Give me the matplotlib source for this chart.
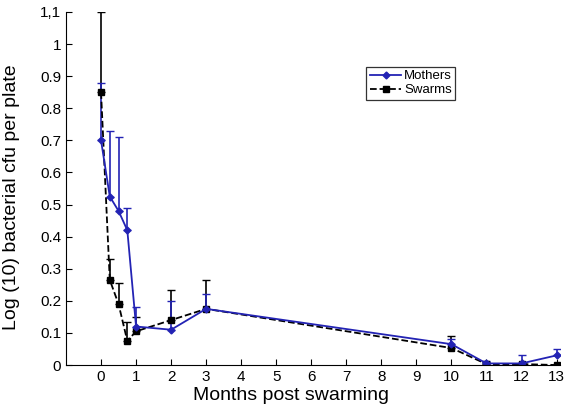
import matplotlib.pyplot as plt
from matplotlib.lines import Line2D
import numpy as np

plt.rcParams['font.family'] = ['Liberation Sans', 'DejaVu Sans']

# Months post swarming
months = [0, 0.25, 0.5, 0.75, 1, 2, 3, 10, 11, 12, 13]

# Mothers: mean and top of error bar
mothers = [0.70, 0.525, 0.48, 0.42, 0.12, 0.11, 0.175, 0.065, 0.005, 0.005, 0.03]
mothers_top = [0.88, 0.73, 0.71, 0.49, 0.18, 0.20, 0.22, 0.08, 0.012, 0.03, 0.05]

# Swarms: mean and top of error bar
swarms = [0.85, 0.265, 0.19, 0.075, 0.105, 0.14, 0.175, 0.053, 0.003, 0.003, 0.0]
swarms_top = [1.10, 0.33, 0.255, 0.135, 0.15, 0.235, 0.265, 0.09, 0.008, 0.005, 0.0]

yticks = [0, 0.1, 0.2, 0.3, 0.4, 0.5, 0.6, 0.7, 0.8, 0.9, 1.0, 1.1]
ytick_labels = ['0', '0.1', '0.2', '0.3', '0.4', '0.5', '0.6', '0.7', '0.8', '0.9', '1', '1,1']
xticks = list(range(0, 14))

blue = '#2323b4'

fig = plt.figure(figsize=(5.64, 4.12), dpi=100)
ax = fig.add_axes([0.117, 0.114, 0.876, 0.857])

m = np.array(mothers)
s = np.array(swarms)
s_err = [np.zeros(len(s)), np.array(swarms_top) - s]
m_err = [np.zeros(len(m)), np.array(mothers_top) - m]

ax.errorbar(months, s, yerr=s_err, color='black', ls='--', lw=1.3,
            marker='s', ms=4, capsize=3, elinewidth=1.2)
ax.errorbar(months, m, yerr=m_err, color=blue, ls='-', lw=1.3,
            marker='D', ms=3.5, capsize=3, elinewidth=1.2)

ax.set_xlim(-1, 13.1)
ax.set_ylim(0, 1.1)
ax.set_xticks(xticks)
ax.set_yticks(yticks)
ax.set_yticklabels(ytick_labels)
ax.tick_params(direction='in', length=4, labelsize=11)
ax.spines['top'].set_visible(False)
ax.spines['right'].set_visible(False)

ax.set_xlabel('Months post swarming', fontsize=14, labelpad=0)
ax.xaxis.set_label_coords(0.455, -0.062)
ax.set_ylabel('Log (10) bacterial cfu per plate', fontsize=14)
ax.yaxis.set_label_coords(-0.093, 0.476)

# legend shows line + marker only, no error bars
handles = [Line2D([], [], color=blue, ls='-', lw=1.3, marker='D', ms=3.5),
           Line2D([], [], color='black', ls='--', lw=1.3, marker='s', ms=4)]
leg = ax.legend(handles, ['Mothers', 'Swarms'], loc='upper left',
                bbox_to_anchor=(0.608, 0.845), fontsize=9.5, frameon=True,
                fancybox=False, edgecolor='black', handlelength=2.4,
                borderpad=0.25, labelspacing=0.15, handletextpad=0.2,
                borderaxespad=0)
leg.get_frame().set_linewidth(0.9)

plt.savefig('out.png', dpi=100)
